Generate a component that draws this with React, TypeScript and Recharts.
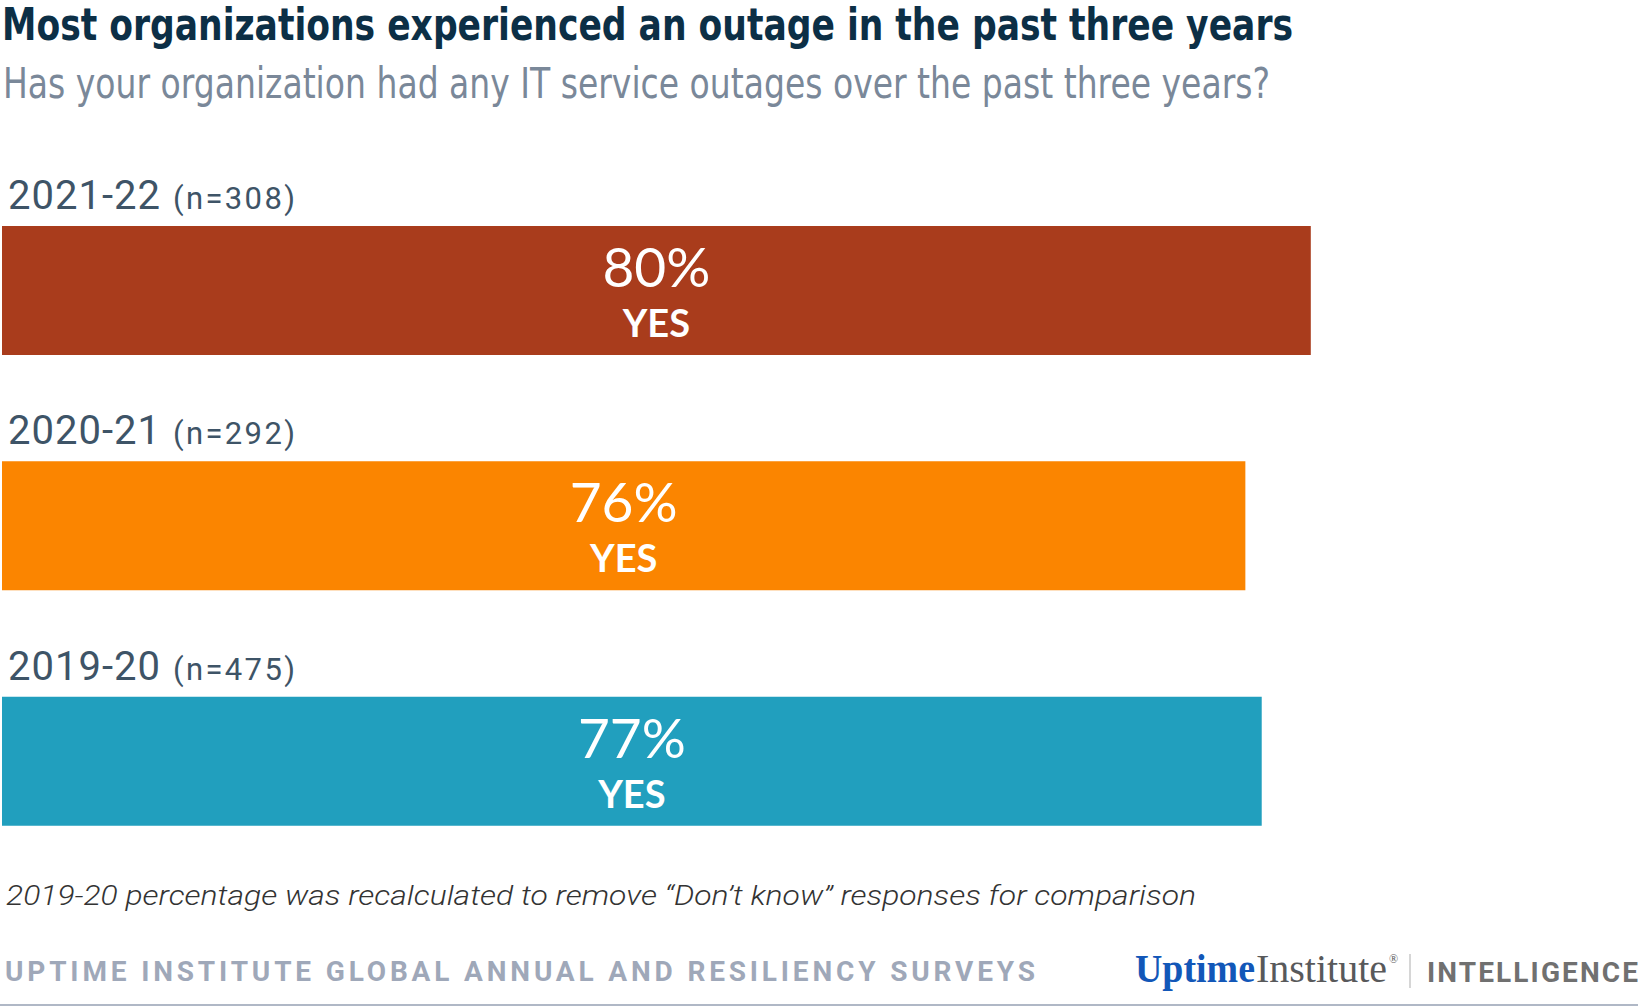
import { BarChart, Bar, XAxis, YAxis, Cell, LabelList } from "recharts";

const periods = ["2021-22", "2020-21", "2019-20"];
const sampleSizes = [308, 292, 475];
const yesShare = [80, 76, 77];

const barColors = ["#a93c1c", "#fb8500", "#219fbe"];

const data = periods.map((period, i) => ({
  period,
  n: sampleSizes[i],
  yes: yesShare[i],
}));

const W = 1638;
const H = 1007;

const narrow = "'Liberation Sans Narrow', 'DejaVu Sans Condensed', Roboto, sans-serif";

function PeriodLabel(props: any) {
  const { x, y, index } = props;
  return (
    <g>
      <text x={x + 6} y={y - 17} fontFamily="Roboto, sans-serif" fontSize={40} fill="#3e5467" textLength={152}>
        {periods[index]}
      </text>
      <text x={x + 171} y={y - 17} fontFamily="Roboto, sans-serif" fontSize={31} fill="#3e5467" textLength={122}>
        (n={sampleSizes[index]})
      </text>
    </g>
  );
}

function ShareLabel(props: any) {
  const { x, y, width, value } = props;
  const cx = x + width / 2;
  return (
    <g>
      <text x={cx} y={y + 61} textAnchor="middle" fontFamily="Lato, sans-serif" fontWeight={400} fontSize={55} fill="#ffffff">
        {value}%
      </text>
      <text x={cx} y={y + 111} textAnchor="middle" fontFamily="Lato, sans-serif" fontWeight={700} fontSize={38} fill="#ffffff">
        YES
      </text>
    </g>
  );
}

export default function App() {
  return (
    <div style={{ position: "relative", width: W, height: H, background: "#fff" }}>
      <style>{`body{margin:0}`}</style>
      <BarChart
        width={W}
        height={H}
        data={data}
        layout="vertical"
        margin={{ top: 173, right: 0, bottom: 128, left: 2 }}
      >
        <XAxis type="number" domain={[0, 100]} hide />
        <YAxis type="category" dataKey="period" hide />
        <Bar dataKey="yes" barSize={129} isAnimationActive={false}>
          {data.map((d, i) => (
            <Cell key={d.period} fill={barColors[i]} />
          ))}
          <LabelList dataKey="period" content={<PeriodLabel />} />
          <LabelList dataKey="yes" content={<ShareLabel />} />
        </Bar>
      </BarChart>

      <svg width={W} height={H} style={{ position: "absolute", left: 0, top: 0, pointerEvents: "none" }}>
        <text x={2} y={40} fontFamily={narrow} fontWeight={700} fontSize={44} fill="#0c2f46" textLength={1291} lengthAdjust="spacingAndGlyphs">
          Most organizations experienced an outage in the past three years
        </text>
        <text x={3} y={98} fontFamily={narrow} fontSize={42} fill="#7a8899" textLength={1267} lengthAdjust="spacingAndGlyphs">
          Has your organization had any IT service outages over the past three years?
        </text>

        <text x={6} y={905} fontFamily="Roboto, sans-serif" fontStyle="italic" fontWeight={300} fontSize={27} fill="#333333" textLength={1190} lengthAdjust="spacingAndGlyphs">
          2019-20 percentage was recalculated to remove “Don’t know” responses for comparison
        </text>

        <text x={5} y={981} fontFamily="Roboto, sans-serif" fontWeight={700} fontSize={28} fill="#9fa8b9" textLength={1030} lengthAdjust="spacing">
          UPTIME INSTITUTE GLOBAL ANNUAL AND RESILIENCY SURVEYS
        </text>

        <text x={1135} y={982} fontFamily="'Liberation Serif', 'DejaVu Serif', serif" fontWeight={700} fontSize={40} fill="#1257b8" textLength={120} lengthAdjust="spacingAndGlyphs">
          Uptime
        </text>
        <text x={1256} y={982} fontFamily="'Liberation Serif', 'DejaVu Serif', serif" fontSize={40} fill="#58595b" textLength={131} lengthAdjust="spacingAndGlyphs">
          Institute
        </text>
        <text x={1389} y={963} fontFamily="'Liberation Serif', serif" fontSize={12} fill="#58595b">
          ®
        </text>
        <line x1={1410} x2={1410} y1={954} y2={988} stroke="#c8c8c8" strokeWidth={1.5} />
        <text x={1427} y={982} fontFamily="Roboto, sans-serif" fontWeight={700} fontSize={28} fill="#707070" textLength={211} lengthAdjust="spacing">
          INTELLIGENCE
        </text>

        <line x1={0} x2={W} y1={1005} y2={1005} stroke="#b0b8c6" strokeWidth={2} />
      </svg>
    </div>
  );
}
